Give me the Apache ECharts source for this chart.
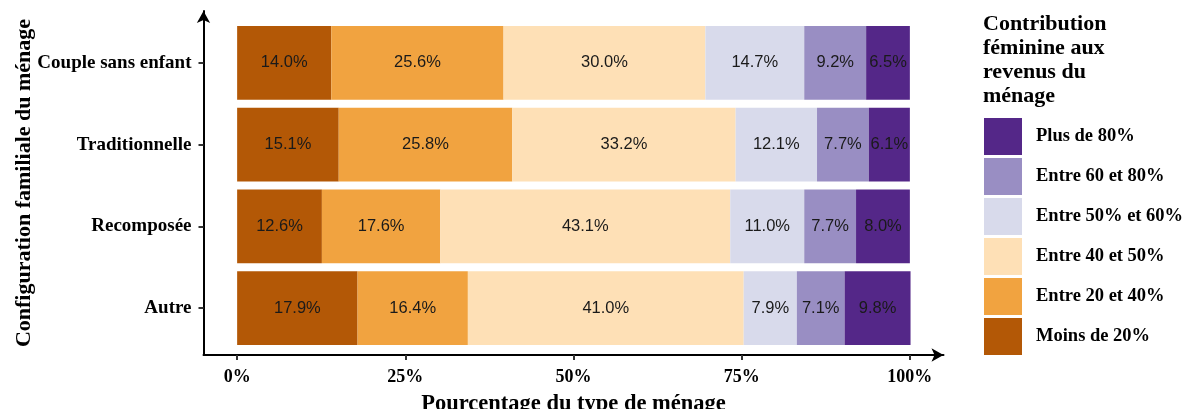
<!DOCTYPE html>
<html><head><meta charset="utf-8">
<script src="https://cdn.jsdelivr.net/npm/echarts@6/dist/echarts.min.js"></script>
<style>html,body{margin:0;padding:0;background:#fff}#c{width:1186px;height:409px}</style>
</head><body><div id="c"></div>
<script>
const categories = ['Couple sans enfant', 'Traditionnelle', 'Recomposée', 'Autre'];
const seriesNames = ['Moins de 20%', 'Entre 20 et 40%', 'Entre 40 et 50%', 'Entre 50% et 60%', 'Entre 60 et 80%', 'Plus de 80%'];
const moins20 = [14.0, 15.1, 12.6, 17.9];
const entre20_40 = [25.6, 25.8, 17.6, 16.4];
const entre40_50 = [30.0, 33.2, 43.1, 41.0];
const entre50_60 = [14.7, 12.1, 11.0, 7.9];
const entre60_80 = [9.2, 7.7, 7.7, 7.1];
const plus80 = [6.5, 6.1, 8.0, 9.8];
const xTicks = [0, 25, 50, 75, 100];
const colors = ['#b35806', '#f1a340', '#fee0b6', '#d8daeb', '#998ec3', '#542788'];
const values = [moins20, entre20_40, entre40_50, entre50_60, entre60_80, plus80];

const serif = 'Liberation Serif';
const chart = echarts.init(document.getElementById('c'), null, {renderer: 'canvas'});
const G = {left: 203.5, width: 740};
chart.setOption({
  animation: false,
  title: {
    text: 'Contribution\nféminine aux\nrevenus du\nménage',
    left: 983, top: 12, padding: 0,
    textStyle: {fontFamily: serif, fontWeight: 'bold', fontSize: 22, lineHeight: 24, color: '#000'}
  },
  legend: {
    orient: 'vertical', left: 984, top: 118, padding: 0,
    itemWidth: 38, itemHeight: 37, itemGap: 3, icon: 'rect',
    data: seriesNames.slice().reverse(),
    textStyle: {fontFamily: serif, fontWeight: 'bold', fontSize: 18.5, color: '#000', padding: [0, 0, 0, 9]}
  },
  grid: [
    {left: G.left, width: G.width, top: 22, height: 327, containLabel: false, outerBoundsMode: 'none'},
    {left: G.left, width: G.width, top: 11, height: 344, containLabel: false, outerBoundsMode: 'none'}
  ],
  xAxis: [
    {gridIndex: 0, type: 'value', min: -5, max: 105, show: false},
    {gridIndex: 1, type: 'value', min: -5, max: 105,
     axisLine: {show: true, onZero: false, lineStyle: {color: '#000', width: 2}, symbol: ['none', 'arrow'], symbolSize: [10, 12]},
     axisTick: {show: true, customValues: xTicks, length: 5, lineStyle: {color: '#333', width: 2}},
     axisLabel: {customValues: xTicks, formatter: v => v + '%', fontFamily: serif, fontWeight: 'bold', fontSize: 18, color: '#000', margin: 13},
     splitLine: {show: false},
     name: 'Pourcentage du type de ménage', nameLocation: 'middle', nameGap: 38,
     nameTextStyle: {fontFamily: serif, fontWeight: 'bold', fontSize: 22.5, color: '#000'}
    }
  ],
  yAxis: [
    {gridIndex: 0, type: 'category', inverse: true, data: categories,
     axisLine: {show: false, onZero: false},
     axisTick: {show: true, alignWithLabel: true, length: 5, lineStyle: {color: '#333', width: 2}},
     axisLabel: {fontFamily: serif, fontWeight: 'bold', fontSize: 19, color: '#000', margin: 12}
    },
    {gridIndex: 1, type: 'value', min: 0, max: 1,
     axisLine: {show: true, onZero: false, lineStyle: {color: '#000', width: 2}, symbol: ['none', 'arrow'], symbolSize: [10, 12]},
     axisTick: {show: false}, axisLabel: {show: false}, splitLine: {show: false},
     name: 'Configuration familiale du ménage', nameLocation: 'middle', nameGap: 168, nameRotate: 90,
     nameTextStyle: {fontFamily: serif, fontWeight: 'bold', fontSize: 22, color: '#000'}
    }
  ],
  series: seriesNames.map((n, i) => ({
    name: n, type: 'bar', stack: 'tot', xAxisIndex: 0, yAxisIndex: 0,
    data: values[i], barCategoryGap: '10%',
    itemStyle: {color: colors[i]},
    label: {show: true, position: 'inside', formatter: p => p.value.toFixed(1) + '%',
      fontFamily: 'Liberation Sans', fontSize: 16.5, color: '#1a1a1a'}
  }))
});
</script></body></html>
